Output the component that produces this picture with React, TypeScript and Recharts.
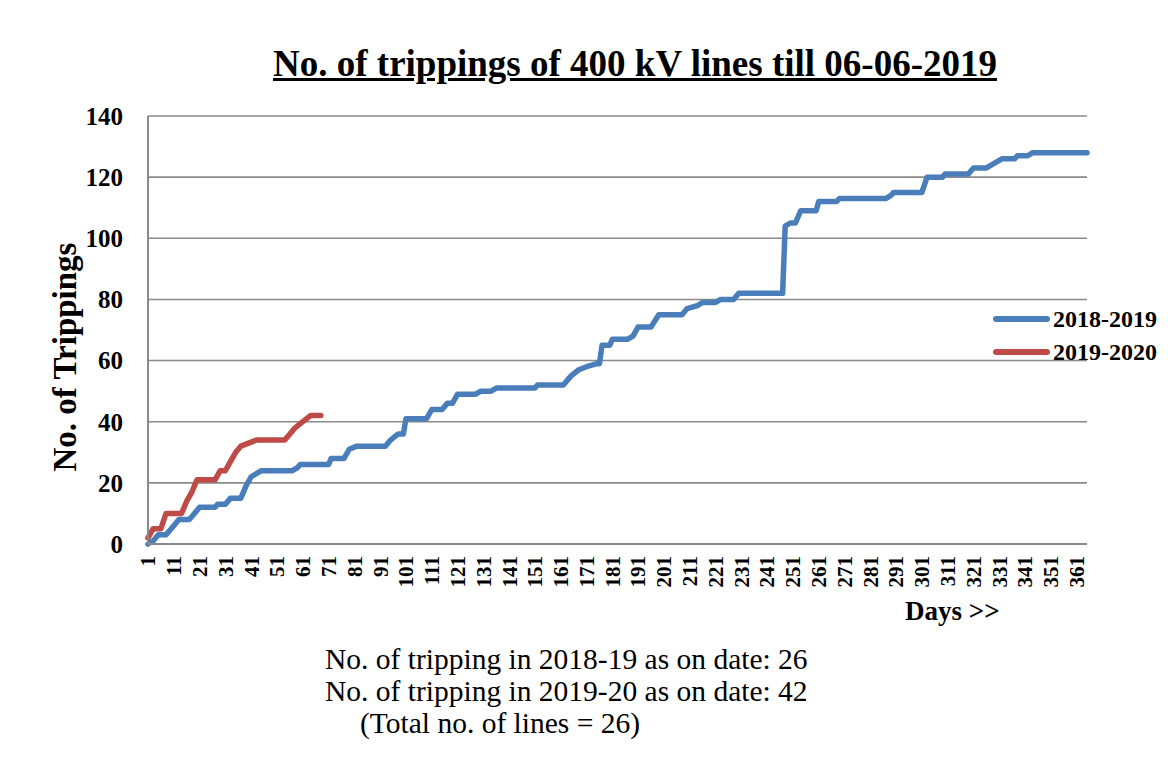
import React from 'react';
import { LineChart, Line, XAxis, YAxis, CartesianGrid } from 'recharts';

// Cumulative trippings: [day, cumulative count] at the days where the line changes direction
const points2018_19: [number, number][] = [
  [1, 0], [3, 1], [5, 3], [8, 3], [10, 5], [13, 8], [17, 8], [19, 10], [21, 12], [27, 12],
  [28, 13], [31, 13], [33, 15], [37, 15], [39, 19], [41, 22], [43, 23], [45, 24], [57, 24],
  [59, 25], [60, 26], [71, 26], [72, 28], [77, 28], [79, 31], [82, 32], [93, 32], [95, 34],
  [98, 36], [100, 36], [101, 41], [109, 41], [111, 44], [115, 44], [117, 46], [119, 46],
  [121, 49], [128, 49], [130, 50], [134, 50], [136, 51], [151, 51], [152, 52], [162, 52],
  [165, 55], [168, 57], [171, 58], [175, 59], [176, 59], [177, 65], [180, 65], [181, 67],
  [187, 67], [189, 68], [191, 71], [196, 71], [199, 75], [208, 75], [210, 77], [214, 78],
  [216, 79], [221, 79], [223, 80], [228, 80], [230, 82], [247, 82], [248, 104], [250, 105],
  [252, 105], [254, 109], [260, 109], [261, 112], [268, 112], [269, 113], [287, 113],
  [289, 114], [290, 115], [301, 115], [303, 120], [309, 120], [310, 121], [319, 121],
  [321, 123], [326, 123], [328, 124], [330, 125], [332, 126], [337, 126], [338, 127],
  [342, 127], [344, 128], [365, 128],
];

const points2019_20: [number, number][] = [
  [1, 2], [3, 5], [6, 5], [8, 10], [14, 10], [16, 14], [18, 17], [20, 21], [27, 21],
  [29, 24], [31, 24], [33, 27], [35, 30], [37, 32], [40, 33], [43, 34], [54, 34], [56, 36],
  [58, 38], [61, 40], [64, 42], [68, 42],
];

const xTicks: number[] = [1, 11, 21, 31, 41, 51, 61, 71, 81, 91, 101, 111, 121, 131, 141, 151,
  161, 171, 181, 191, 201, 211, 221, 231, 241, 251, 261, 271, 281, 291, 301, 311, 321, 331,
  341, 351, 361];
const yTicks: number[] = [0, 20, 40, 60, 80, 100, 120, 140];

const seriesNames = ['2018-2019', '2019-2020'];
const seriesColors = ['#4A7EBB', '#BE4B48'];

const titleText = 'No. of trippings of 400 kV lines till 06-06-2019';
const yTitle = 'No. of Trippings';
const xTitle = 'Days >>';
const noteLines = [
  'No. of tripping in 2018-19 as on date: 26',
  'No. of tripping in 2019-20 as on date: 42',
  '(Total no. of lines = 26)',
];

const FONT = '"Liberation Serif", "Times New Roman", serif';

const data1 = points2018_19.map(([day, v]) => ({ day, v }));
const data2 = points2019_20.map(([day, v]) => ({ day, v }));

const XTick = (props: any) => {
  const { x, y, payload } = props;
  return (
    <g transform={`translate(${x},${y}) rotate(-90)`}>
      <text x={0} y={0} dy="0.35em" textAnchor="end" fontFamily={FONT} fontWeight="bold"
        fontSize={21} fill="#000">
        {payload.value}
      </text>
    </g>
  );
};

export default function App() {
  return (
    <div style={{ position: 'relative', width: 1152, height: 744, fontFamily: FONT }}>
      <div style={{ position: 'absolute', left: -1, top: -1, width: 1160, height: 760,
        borderLeft: '1px solid #8c8c8c', borderTop: '1px solid #8c8c8c', pointerEvents: 'none' }} />
      <div style={{ position: 'absolute', left: 0, top: 34, width: 1254, textAlign: 'center',
        fontSize: 37, fontWeight: 'bold', textDecoration: 'underline', whiteSpace: 'nowrap',
        lineHeight: '44px' }}>
        {titleText}
      </div>
      <LineChart width={1152} height={680} margin={{ top: 108, right: 73, bottom: 64, left: 80 }}>
        <CartesianGrid vertical={false} stroke="#8a8a8a" strokeWidth={1.6} />
        <XAxis dataKey="day" type="number" domain={[1, 365]} ticks={xTicks} interval={0}
          axisLine={{ stroke: '#8a8a8a', strokeWidth: 2 }} tickLine={false} tickSize={0}
          tickMargin={12} height={80} tick={<XTick />} allowDuplicatedCategory={false} />
        <YAxis type="number" domain={[0, 140]} ticks={yTicks} width={60}
          axisLine={{ stroke: '#8a8a8a', strokeWidth: 2 }} tickLine={false} tickSize={0}
          tickMargin={25}
          tick={{ fontFamily: FONT, fontWeight: 'bold', fontSize: 25, fill: '#000' }} />
        <Line data={data1} dataKey="v" name={seriesNames[0]} type="linear" stroke={seriesColors[0]}
          strokeWidth={5.5} dot={false} isAnimationActive={false} strokeLinecap="round"
          strokeLinejoin="round" />
        <Line data={data2} dataKey="v" name={seriesNames[1]} type="linear" stroke={seriesColors[1]}
          strokeWidth={5.5} dot={false} isAnimationActive={false} strokeLinecap="round"
          strokeLinejoin="round" />
      </LineChart>
      <div style={{ position: 'absolute', left: 57, top: 349, width: 0, height: 0 }}>
        <div style={{ position: 'absolute', left: 0, top: 0, transform: 'translate(-50%,-50%) rotate(-90deg)',
          fontSize: 33, fontWeight: 'bold', whiteSpace: 'nowrap' }}>
          {yTitle}
        </div>
      </div>
      <div style={{ position: 'absolute', left: 897, top: 588, fontSize: 27, fontWeight: 'bold',
        whiteSpace: 'nowrap', lineHeight: '30px' }}>
        {xTitle}
      </div>
      {seriesNames.map((name, i) => (
        <div key={name} style={{ position: 'absolute', left: 985, top: 296 + i * 33, height: 30,
          display: 'flex', alignItems: 'center', whiteSpace: 'nowrap' }}>
          <div style={{ width: 57, height: 6, borderRadius: 3, background: seriesColors[i] }} />
          <span style={{ marginLeft: 3, fontSize: 24, fontWeight: 'bold', lineHeight: '30px' }}>{name}</span>
        </div>
      ))}
      <div style={{ position: 'absolute', left: 317, top: 635, fontSize: 29.5, lineHeight: '32px',
        whiteSpace: 'pre' }}>
        <div>{noteLines[0]}</div>
        <div>{noteLines[1]}</div>
        <div style={{ paddingLeft: 35 }}>{noteLines[2]}</div>
      </div>
    </div>
  );
}
